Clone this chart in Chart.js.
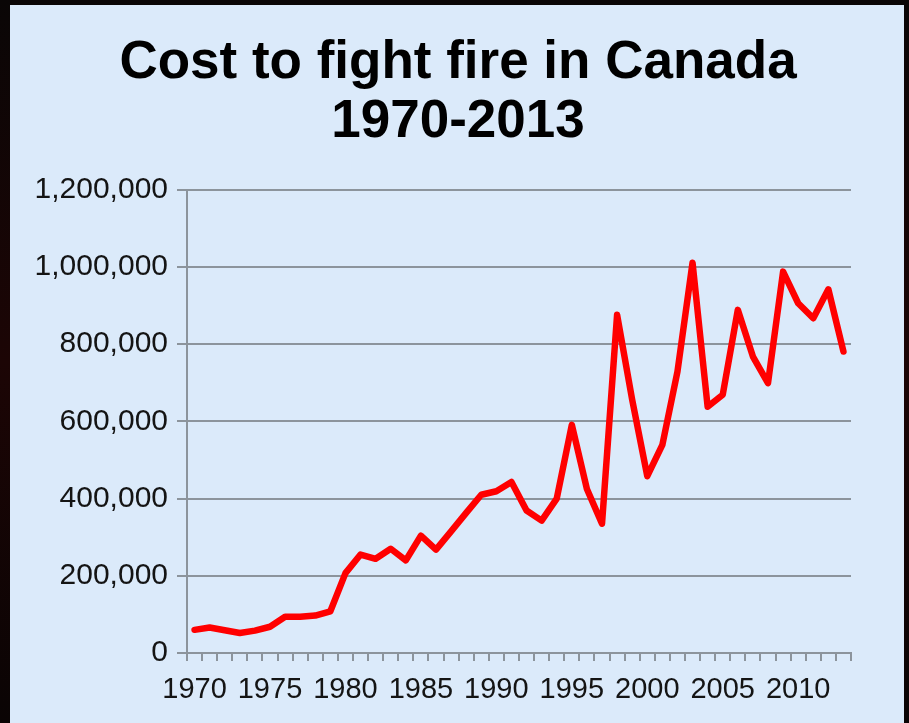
<!DOCTYPE html>
<html>
<head>
<meta charset="utf-8">
<script src="https://cdn.jsdelivr.net/npm/chart.js@4/dist/chart.umd.min.js"></script>
<style>
  html, body { margin: 0; padding: 0; background: #0b0505; }
  #wrap { position: relative; width: 909px; height: 723px; }
  canvas { display: block; }
</style>
</head>
<body>
<div id="wrap"><canvas id="c" width="909" height="723"></canvas></div>
<script>
// Annual fire-fighting cost in Canada
const years = [1970, 1971, 1972, 1973, 1974, 1975, 1976, 1977, 1978, 1979,
               1980, 1981, 1982, 1983, 1984, 1985, 1986, 1987, 1988, 1989,
               1990, 1991, 1992, 1993, 1994, 1995, 1996, 1997, 1998, 1999,
               2000, 2001, 2002, 2003, 2004, 2005, 2006, 2007, 2008, 2009,
               2010, 2011, 2012, 2013];
const costs = [60000, 66000, 59000, 52000, 58000, 68000, 94000, 94000, 97000, 108000,
               207000, 255000, 244000, 270000, 240000, 304000, 268000, 315000, 363000, 410000,
               419000, 443000, 369000, 343000, 400000, 591000, 425000, 335000, 876000, 656000,
               458000, 539000, 729000, 1011000, 638000, 669000, 889000, 768000, 699000, 988000,
               906000, 867000, 942000, 781000];
const labeledYears = [1970, 1975, 1980, 1985, 1990, 1995, 2000, 2005, 2010];
const costTicks = [0, 200000, 400000, 600000, 800000, 1000000, 1200000];
const titleLines = ['Cost to fight fire in Canada', '1970-2013'];

const FONT = "'Liberation Sans', Arial, Helvetica, sans-serif";
const GRID = '#8c949c';
const INK = '#141414';

// dark frame with the light-blue slide panel inside it
const panelBackground = {
  id: 'panelBackground',
  beforeDraw(chart) {
    const ctx = chart.ctx;
    const w = chart.width, h = chart.height;
    ctx.save();
    const g = ctx.createLinearGradient(0, 0, 0, h);
    g.addColorStop(0, '#0a0606');
    g.addColorStop(0.5, '#1c0505');
    g.addColorStop(1, '#0a0404');
    ctx.fillStyle = g;
    ctx.fillRect(0, 0, w, h);
    ctx.fillStyle = '#dbeafa';
    ctx.fillRect(10, 5, w - 15, h - 5);
    ctx.restore();
  }
};

new Chart(document.getElementById('c'), {
  type: 'line',
  data: {
    labels: years.map(String),
    datasets: [{
      data: costs,
      yAxisID: 'y',
      borderColor: '#ff0000',
      borderWidth: 6.5,
      borderJoinStyle: 'round',
      borderCapStyle: 'round',
      pointRadius: 0,
      tension: 0,
      fill: false
    }]
  },
  options: {
    responsive: false,
    animation: false,
    devicePixelRatio: 1,
    layout: { padding: { left: 7, right: 0, top: 0, bottom: 0 } },
    plugins: {
      legend: { display: false },
      tooltip: { enabled: false },
      title: {
        display: true,
        text: titleLines,
        color: '#000000',
        font: { family: FONT, size: 53, weight: 'bold', lineHeight: 1.13 },
        padding: { top: 33, bottom: 37 }
      }
    },
    scales: {
      x: {
        type: 'category',
        offset: true,
        grid: {
          offset: true,
          drawOnChartArea: false,
          drawTicks: true,
          tickLength: 8,
          color: GRID,
          lineWidth: 2
        },
        border: { display: true, color: GRID, width: 2 },
        ticks: {
          autoSkip: false,
          maxRotation: 0,
          minRotation: 0,
          padding: 12,
          color: INK,
          font: { family: FONT, size: 29 },
          callback(value, index) {
            const y = years[index];
            return labeledYears.includes(y) ? String(y) : '';
          }
        },
        afterFit(scale) { scale.height = 70; }
      },
      y: {
        position: 'left',
        min: 0,
        max: 1200000,
        grid: { color: GRID, lineWidth: 2, tickLength: 10, drawTicks: true },
        border: { display: true, color: GRID, width: 2 },
        afterBuildTicks(scale) {
          scale.ticks = costTicks.map(v => ({ value: v }));
        },
        ticks: {
          padding: 9,
          color: INK,
          font: { family: FONT, size: 30 },
          callback(value) { return Number(value).toLocaleString('en-US'); }
        },
        afterFit(scale) { scale.width = 180; }
      },
      // empty right-hand margin beside the plot
      margin: {
        type: 'linear',
        position: 'right',
        display: true,
        grid: { display: false },
        border: { display: false },
        ticks: { display: false },
        afterFit(scale) { scale.width = 58; }
      }
    }
  },
  plugins: [panelBackground]
});
</script>
</body>
</html>
